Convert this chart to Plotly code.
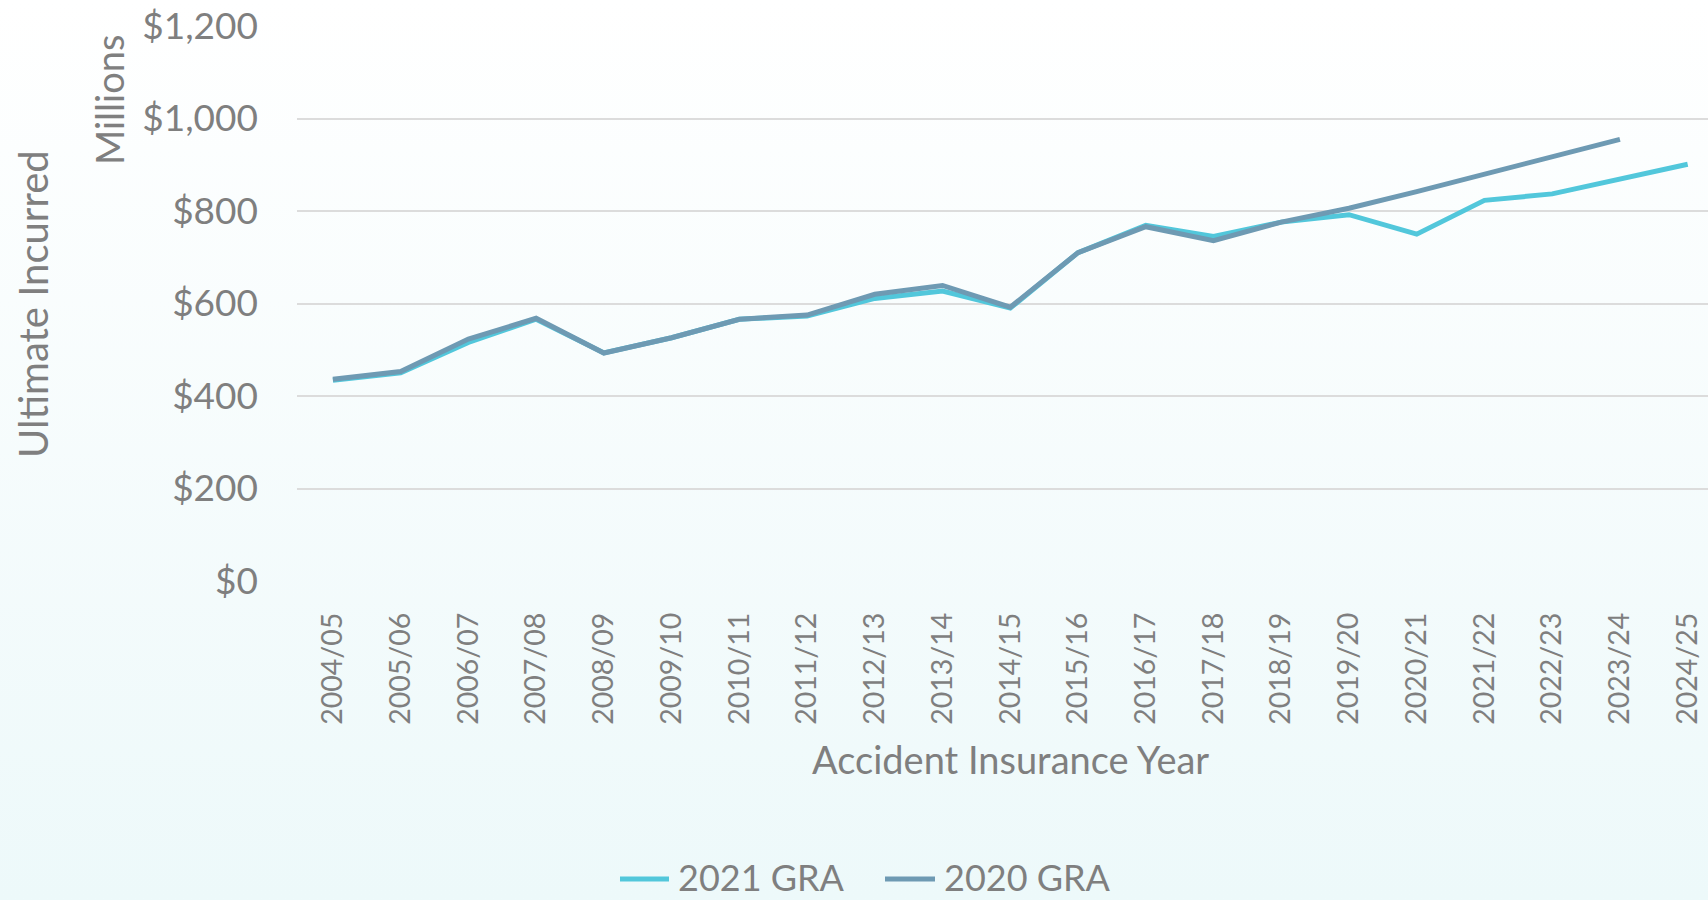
import base64
import plotly.graph_objects as go

years = ["2004/05", "2005/06", "2006/07", "2007/08", "2008/09", "2009/10", "2010/11",
         "2011/12", "2012/13", "2013/14", "2014/15", "2015/16", "2016/17", "2017/18",
         "2018/19", "2019/20", "2020/21", "2021/22", "2022/23", "2023/24", "2024/25"]

gra_2021 = [434, 450, 516, 566, 493, 526, 566, 573, 611, 627, 590, 710, 769, 745,
            776, 792, 750, 823, 837, 868, 901]

gra_2020 = [436, 453, 523, 568, 493, 526, 566, 575, 620, 639, 592, 710, 766, 736,
            776, 806, 842, 879, 917, 955, None]

W, H = 1708, 900
L, T, R = 297, 26, 0
B = H - 581
PW = W - L - R
PH = H - T - B

FONT = "Lato"
GREY = "#7F7F7F"

def px(x):
    return (x - L) / PW

def py(y):
    return (H - B - y) / PH

svg = (
    '<svg xmlns="http://www.w3.org/2000/svg" width="100" height="100" preserveAspectRatio="none">'
    '<defs><linearGradient id="g" x1="0" y1="0" x2="0" y2="1">'
    '<stop offset="0" stop-color="#FFFFFF"/><stop offset="1" stop-color="#EDF9FA"/>'
    '</linearGradient></defs><rect width="100" height="100" fill="url(#g)"/></svg>'
)
bg_uri = "data:image/svg+xml;base64," + base64.b64encode(svg.encode()).decode()

fig = go.Figure()
fig.add_trace(go.Scatter(x=years, y=gra_2021, mode="lines", name="2021 GRA",
                         line=dict(color="#52C7DB", width=5), showlegend=False))
fig.add_trace(go.Scatter(x=years, y=gra_2020, mode="lines", name="2020 GRA",
                         line=dict(color="#6E9AB3", width=5), showlegend=False))

annotations = [
    dict(text="Ultimate Incurred", x=px(33), y=py(304), textangle=-90, size=40),
    dict(text="Millions", x=px(109), y=py(100), textangle=-90, size=38),
    dict(text="Accident Insurance Year", x=px(1010), y=py(759), size=38),
    dict(text="2021 GRA", x=px(676), y=py(877), xanchor="left", size=36),
    dict(text="2020 GRA", x=px(942), y=py(877), xanchor="left", size=36),
]
for a in annotations:
    a.setdefault("xanchor", "center")
    size = a.pop("size")
    a.update(xref="paper", yref="paper", yanchor="middle", showarrow=False,
             font=dict(family=FONT, size=size, color=GREY))

shapes = [
    dict(type="line", xref="paper", yref="paper", x0=px(620), x1=px(669), y0=py(879), y1=py(879),
         line=dict(color="#52C7DB", width=5)),
    dict(type="line", xref="paper", yref="paper", x0=px(885), x1=px(935), y0=py(879), y1=py(879),
         line=dict(color="#6E9AB3", width=5)),
]

fig.update_layout(
    width=W, height=H,
    margin=dict(l=L, r=R, t=T, b=B, pad=0),
    paper_bgcolor="rgba(0,0,0,0)",
    plot_bgcolor="rgba(0,0,0,0)",
    showlegend=False,
    annotations=annotations,
    shapes=shapes,
    images=[dict(source=bg_uri, xref="paper", yref="paper", x=px(0), y=py(0),
                 sizex=W / PW, sizey=H / PH, sizing="stretch", xanchor="left",
                 yanchor="top", layer="below")],
    xaxis=dict(type="category", range=[-0.53, 20.3], showgrid=False, showline=False,
               zeroline=False, tickangle=-90, ticks="", ticklabelstandoff=25,
               tickfont=dict(family=FONT, size=28.5, color=GREY)),
    yaxis=dict(range=[0, 1200], dtick=200, tickprefix="$", tickformat=",",
               showgrid=True, gridcolor="#DCDCDC", gridwidth=1.5, zeroline=False,
               showline=False, ticks="", ticklabelstandoff=38,
               tickfont=dict(family=FONT, size=37, color=GREY)),
)

fig.write_html("out.html", config={"displayModeBar": False},
               post_script="document.body.style.margin='0';")
